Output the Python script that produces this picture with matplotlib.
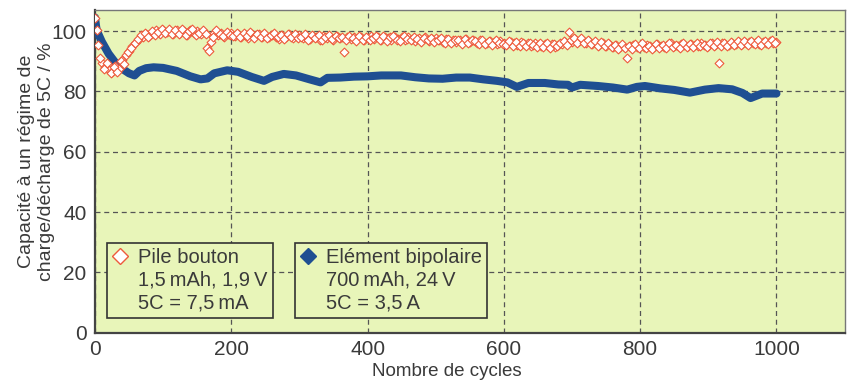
import numpy as np
import matplotlib
matplotlib.use("Agg")
import matplotlib.pyplot as plt
from matplotlib.lines import Line2D

plt.rcParams['font.family'] = ['Liberation Sans', 'DejaVu Sans']

# ---- data ----
red_cycles_a = list(range(0, 1001, 5))
red_values_a = [
    104.5, 95.5, 89.5, 88.0, 87.0, 86.5, 88.5, 87.5, 90.5, 92.0, 93.5, 95.0, 96.5, 97.5, 98.0, 99.0, 98.5, 99.5, 100.2, 99.0,
    100.5, 99.6, 100.1, 99.0, 100.4, 99.3, 100.0, 98.6, 100.2, 99.4, 100.0, 99.1, 99.6, 94.5, 96.5, 99.4, 98.6, 99.5, 98.2, 99.0,
    99.3, 98.4, 99.0, 98.1, 98.8, 97.6, 98.9, 98.3, 99.1, 98.0, 98.6, 97.9, 98.8, 98.2, 97.5, 98.6, 98.0, 98.9, 97.8, 98.3,
    98.6, 97.6, 98.2, 97.4, 98.4, 97.9, 97.2, 98.3, 97.7, 98.1, 97.0, 98.4, 97.6, 93.0, 97.9, 97.3, 98.0, 97.5, 98.2, 97.1,
    97.8, 98.3, 97.4, 98.0, 97.2, 98.2, 97.6, 96.9, 98.1, 97.5, 97.9, 97.0, 98.0, 97.4, 96.8, 97.7, 97.1, 97.9, 96.6, 97.3,
    97.6, 97.0, 96.5, 97.4, 96.8, 97.2, 96.3, 97.0, 96.7, 97.3, 96.4, 96.9, 96.2, 97.1, 96.5, 96.0, 96.8, 96.3, 95.8, 96.6,
    96.2, 95.7, 96.5, 95.9, 95.4, 96.3, 95.6, 95.9, 95.2, 96.0, 95.5, 94.9, 95.7, 95.0, 95.6, 94.8, 95.3, 95.8, 96.5, 99.7,
    96.4, 97.3, 96.6, 97.0, 96.2, 96.8, 95.8, 96.1, 95.4, 95.9, 95.1, 95.6, 94.8, 95.3, 94.6, 95.1, 91.0, 94.9, 95.3, 94.7,
    95.2, 94.6, 95.5, 95.0, 94.8, 95.6, 95.1, 94.7, 95.4, 95.9, 95.2, 94.9, 95.7, 95.3, 95.0, 95.8, 95.4, 95.1, 96.0, 95.5,
    95.2, 95.9, 95.4, 89.3, 96.1, 95.6, 95.3, 96.2, 95.8, 96.4, 95.7, 96.0, 96.5, 95.9, 96.3, 95.6, 96.4, 96.0, 96.6, 96.1,
    96.3,
]
red_cycles_b = list(range(3, 1000, 5))
red_values_b = [
    100.5, 91.0, 87.5, 89.5, 86.0, 88.0, 86.5, 90.0, 89.0, 93.0, 94.5, 96.0, 97.5, 98.8, 99.5, 98.0, 100.0, 98.7, 99.8, 100.6,
    99.2, 100.8, 98.9, 100.3, 99.0, 100.7, 98.8, 99.9, 100.6, 98.7, 99.5, 100.3, 98.9, 93.5, 98.0, 100.2, 99.1, 98.4, 99.8, 98.6,
    98.5, 99.5, 97.9, 99.2, 98.3, 99.6, 97.7, 98.9, 98.2, 99.4, 97.6, 98.7, 99.3, 97.9, 98.8, 97.4, 99.0, 98.1, 98.9, 97.8,
    97.9, 98.9, 97.1, 98.6, 97.8, 98.7, 96.9, 98.0, 98.6, 97.3, 98.5, 97.6, 98.2, 96.9, 98.3, 97.7, 96.8, 98.4, 97.2, 98.0,
    96.9, 97.8, 98.5, 97.1, 98.3, 96.8, 97.9, 98.4, 97.2, 96.7, 98.3, 97.5, 96.9, 98.0, 97.3, 96.5, 97.8, 97.0, 97.6, 96.4,
    96.9, 97.8, 96.1, 97.5, 96.0, 97.2, 96.9, 95.8, 97.4, 96.1, 97.0, 96.6, 95.7, 96.9, 95.8, 96.7, 95.5, 96.9, 96.0, 95.6,
    95.5, 96.6, 95.2, 96.4, 95.0, 96.1, 94.9, 96.2, 95.4, 94.6, 96.0, 94.7, 95.9, 94.5, 95.8, 94.9, 96.0, 96.8, 95.5, 97.0,
    97.8, 95.9, 97.6, 96.0, 97.1, 95.6, 96.7, 95.2, 96.3, 94.9, 95.9, 94.6, 95.5, 94.2, 95.6, 94.4, 95.2, 94.0, 95.7, 94.3,
    95.9, 94.3, 95.1, 94.2, 95.8, 94.5, 95.3, 94.4, 96.0, 94.6, 95.5, 94.5, 96.1, 94.8, 95.6, 94.6, 96.2, 95.0, 95.5, 94.8,
    96.0, 94.9, 96.3, 95.1, 95.9, 95.0, 96.5, 95.3, 96.6, 95.4, 96.8, 95.5, 96.7, 95.7, 96.9, 95.4, 96.8, 95.7, 97.0, 95.9,
]

blue_cycles = [0, 2, 5, 10, 15, 20, 25, 30, 35, 40, 50, 58, 65, 75, 86, 100, 120, 140, 155, 165,
               175, 194, 210, 230, 248, 260, 277, 295, 315, 331, 341, 360, 380, 400, 420, 449,
               470, 490, 510, 530, 550, 570, 590, 605, 619, 636, 660, 680, 694, 700, 712, 738,
               760, 781, 795, 807, 830, 850, 873, 895, 915, 935, 950, 962, 979, 1000]
blue_values = [104.5, 101.0, 99.0, 96.5, 94.5, 92.5, 91.0, 89.5, 88.5, 87.5, 86.0, 85.3, 86.8, 87.7, 88.0, 87.8, 86.8, 85.0, 84.0, 84.3,
               86.0, 87.0, 86.5, 84.8, 83.5, 84.8, 85.8, 85.3, 84.0, 83.0, 84.5, 84.6, 84.9, 85.0, 85.3, 85.3,
               84.7, 84.3, 84.2, 84.6, 84.6, 84.0, 83.5, 83.0, 81.5, 82.8, 82.8, 82.3, 82.2, 81.3, 82.2, 81.8,
               81.3, 80.6, 81.5, 81.8, 81.0, 80.5, 79.6, 80.6, 81.1, 80.7, 79.5, 77.8, 79.3, 79.3]

x_ticks = [0, 200, 400, 600, 800, 1000]
y_ticks = [0, 20, 40, 60, 80, 100]
red_label = ["Pile bouton", "1,5\u2009mAh, 1,9\u2009V", "5C = 7,5\u2009mA"]
blue_label = ["Elément bipolaire", "700\u2009mAh, 24\u2009V", "5C = 3,5\u2009A"]
x_label = "Nombre de cycles"
y_label = "Capacité à un régime de\ncharge/décharge de 5C / %"

RED = "#ee5a3c"
BLUE = "#1f4f92"
TXT = "#3a3a3a"
BG = "#e8f5b9"

fig = plt.figure(figsize=(8.48, 3.83), dpi=100)
ax = fig.add_axes([0.112, 0.131, 0.884, 0.843])
ax.set_facecolor(BG)

ax.plot(blue_cycles, blue_values, color=BLUE, lw=5.8, solid_capstyle='round',
        solid_joinstyle='round', zorder=3)
for cx, cy in ((red_cycles_a, red_values_a), (red_cycles_b, red_values_b)):
    ax.scatter(cx, cy, marker='D', s=20, facecolors='white', edgecolors=RED,
               linewidths=0.8, zorder=4)

ax.set_xlim(0, 1100)
ax.set_ylim(0, 107)
ax.set_xticks(x_ticks)
ax.set_yticks(y_ticks)
ax.tick_params(length=0, labelsize=15, colors=TXT, pad=6)
ax.tick_params(axis='x', pad=5)
ax.grid(True, color="#555555", linestyle=(0, (4, 3)), linewidth=0.9)
ax.set_axisbelow(True)

for s in ['left', 'bottom']:
    ax.spines[s].set_color("#444444")
    ax.spines[s].set_linewidth(1.6)
for s in ['top', 'right']:
    ax.spines[s].set_color("#777777")
    ax.spines[s].set_linewidth(1.0)

ax.set_xlabel(x_label, fontsize=13.5, color=TXT)
ax.xaxis.set_label_coords(0.47, -0.092)
ax.set_ylabel(y_label, fontsize=14, color=TXT, linespacing=1.25)
ax.yaxis.set_label_coords(-0.053, 0.53)

blank = Line2D([], [], ls='none', marker=None)
h_red = Line2D([], [], marker='D', ls='none', markersize=8, markerfacecolor='white',
               markeredgecolor=RED, markeredgewidth=1.0)
h_blue = Line2D([], [], marker='D', ls='none', markersize=8, markerfacecolor=BLUE,
                markeredgecolor=BLUE)

common = dict(prop={'size': 14.5}, frameon=True, fancybox=False, framealpha=1, edgecolor="#333333",
              facecolor=BG, handlelength=0.8, handletextpad=0.5, borderpad=0.25,
              labelspacing=0.18, labelcolor=TXT, loc='lower left', borderaxespad=0)
leg1 = ax.legend([h_red, blank, blank], red_label, bbox_to_anchor=(0.016, 0.047), **common)
leg1.get_frame().set_linewidth(1.2)
ax.add_artist(leg1)
leg2 = ax.legend([h_blue, blank, blank], blue_label, bbox_to_anchor=(0.267, 0.047), **common)
leg2.get_frame().set_linewidth(1.2)

fig.savefig("out.png", dpi=100)
